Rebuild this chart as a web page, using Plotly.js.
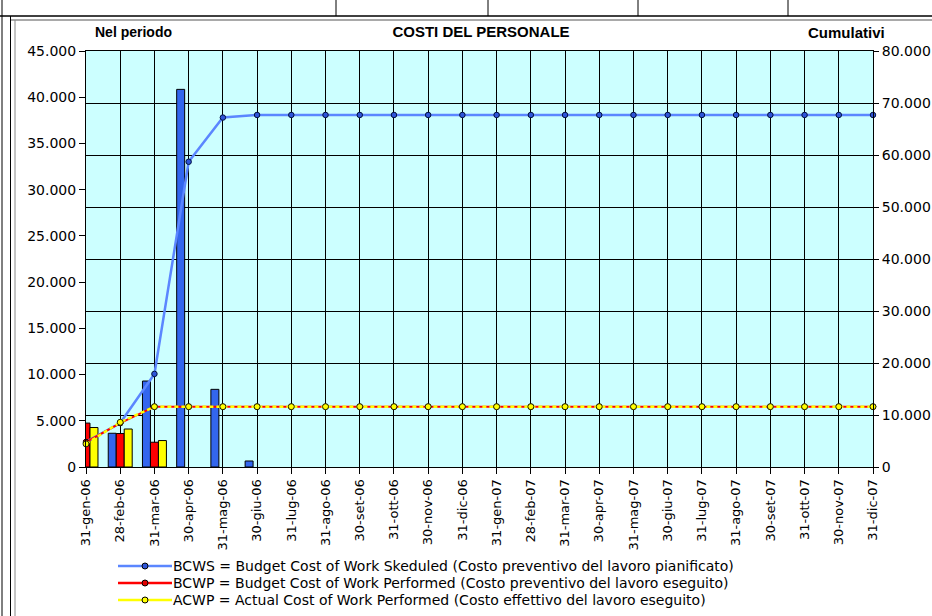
<!DOCTYPE html>
<html>
<head>
<meta charset="utf-8">
<script src="https://cdn.plot.ly/plotly-3.0.1.min.js"></script>
<style>
html,body{margin:0;padding:0;background:#ffffff;}
#chart{width:932px;height:616px;}
</style>
</head>
<body>
<div id="chart"></div>
<script>
// ---- data ----
const categories = ["31-gen-06","28-feb-06","31-mar-06","30-apr-06","31-mag-06","30-giu-06",
  "31-lug-06","31-ago-06","30-set-06","31-ott-06","30-nov-06","31-dic-06",
  "31-gen-07","28-feb-07","31-mar-07","30-apr-07","31-mag-07","30-giu-07",
  "31-lug-07","31-ago-07","30-set-07","31-ott-07","30-nov-07","31-dic-07"];

// "Nel periodo" (left axis) - bars
const bcwsPeriod = [4800, 3650, 9300, 40850, 8400, 650, 0, 0, 0, 0, 0, 0,
                    0, 0, 0, 0, 0, 0, 0, 0, 0, 0, 0, 0];
const bcwpPeriod = [4750, 3620, 2680, 0, 0, 0, 0, 0, 0, 0, 0, 0,
                    0, 0, 0, 0, 0, 0, 0, 0, 0, 0, 0, 0];
const acwpPeriod = [4270, 4110, 2860, 0, 0, 0, 0, 0, 0, 0, 0, 0,
                    0, 0, 0, 0, 0, 0, 0, 0, 0, 0, 0, 0];

// "Cumulativi" (right axis) - lines
const bcwsCum = [4800, 8450, 17900, 58700, 67200, 67700, 67700, 67700, 67700, 67700, 67700, 67700,
                 67700, 67700, 67700, 67700, 67700, 67700, 67700, 67700, 67700, 67700, 67700, 67700];
const bcwpCum = [4800, 8450, 11600, 11600, 11600, 11600, 11600, 11600, 11600, 11600, 11600, 11600,
                 11600, 11600, 11600, 11600, 11600, 11600, 11600, 11600, 11600, 11600, 11600, 11600];
const acwpCum = [4450, 8600, 11600, 11600, 11600, 11600, 11600, 11600, 11600, 11600, 11600, 11600,
                 11600, 11600, 11600, 11600, 11600, 11600, 11600, 11600, 11600, 11600, 11600, 11600];

const seriesNames = [
  "BCWS = Budget Cost of Work Skeduled (Costo preventivo del lavoro pianificato)",
  "BCWP = Budget Cost of Work Performed (Costo preventivo del lavoro eseguito)",
  "ACWP = Actual Cost of Work Performed (Costo effettivo del lavoro eseguito)"
];
const titleText = "COSTI DEL PERSONALE";
const leftTitle = "Nel periodo";
const rightTitle = "Cumulativi";

// ---- styles ----
const lineColors = ["#5b86ff", "#ff0000", "#ffff00"];
const markerColors = ["#2f55d8", "#e00000", "#ffff00"];
const barColors = ["#3366ee", "#ff0000", "#ffff00"];

// ---- layout helpers (pixel -> paper) ----
const W = 932, H = 616, L = 86, R = 59, T = 51, B = 149;
const PW = W - L - R, PH = H - T - B;
const px = v => (v - L) / PW;
const py = v => (H - B - v) / PH;

const FONT = "DejaVu Sans, Verdana, sans-serif";
const TFONT = "Liberation Sans, Arial, sans-serif";
const outline = vals => vals.map(v => (v ? 1 : 0));

const traces = [
  {type:"bar", x:categories, y:bcwsPeriod, yaxis:"y", name:"BCWS",
   marker:{color:barColors[0], line:{color:"#000", width:outline(bcwsPeriod)}}, hoverinfo:"skip"},
  {type:"bar", x:categories, y:bcwpPeriod, yaxis:"y", name:"BCWP",
   marker:{color:barColors[1], line:{color:"#000", width:outline(bcwpPeriod)}}, hoverinfo:"skip"},
  {type:"bar", x:categories, y:acwpPeriod, yaxis:"y", name:"ACWP",
   marker:{color:barColors[2], line:{color:"#000", width:outline(acwpPeriod)}}, hoverinfo:"skip"},
  {type:"scatter", mode:"lines+markers", x:categories, y:bcwsCum, yaxis:"y2", name:seriesNames[0],
   cliponaxis:false,
   line:{color:lineColors[0], width:2.5},
   marker:{symbol:"circle", size:5.5, color:markerColors[0], line:{color:"#001040", width:1}}},
  {type:"scatter", mode:"lines+markers", x:categories, y:bcwpCum, yaxis:"y2", name:seriesNames[1],
   cliponaxis:false,
   line:{color:lineColors[1], width:2},
   marker:{symbol:"circle", size:5.5, color:markerColors[1], line:{color:"#200000", width:1}}},
  {type:"scatter", mode:"lines+markers", x:categories, y:acwpCum, yaxis:"y2", name:seriesNames[2],
   cliponaxis:false,
   line:{color:lineColors[2], width:2.5, dash:"4px,3px"},
   marker:{symbol:"circle", size:6, color:markerColors[2], line:{color:"#202000", width:1}}}
];

const lineShape = (x0,y0,x1,y1,c,w,dash) => ({type:"line", xref:"paper", yref:"paper",
  x0:px(x0), y0:py(y0), x1:px(x1), y1:py(y1), line:{color:c, width:w, dash:dash||"solid"}, layer:"above"});

// manual legend (rows like the reference)
const legendRows = [566, 583, 600];
const legendShapes = [];
const legendAnnotations = [];
seriesNames.forEach((name, i) => {
  const yy = legendRows[i];
  legendShapes.push(lineShape(118, yy, 172, yy, lineColors[i], 2.5));
  legendShapes.push({type:"circle", xref:"paper", yref:"paper",
    x0:px(142), x1:px(148), y0:py(yy+3), y1:py(yy-3),
    fillcolor:markerColors[i], line:{color:"#000", width:1}, layer:"above"});
  legendAnnotations.push({xref:"paper", yref:"paper", x:px(171), y:py(yy), xanchor:"left", yanchor:"middle",
    text:name, showarrow:false, font:{family:FONT, size:14, color:"#000"}});
});

const layout = {
  width: W, height: H,
  margin:{l:L, r:R, t:T, b:B, pad:0, autoexpand:false},
  paper_bgcolor:"#ffffff",
  plot_bgcolor:"#ccffff",
  separators:",.",
  font:{family:FONT, size:13, color:"#000"},
  barmode:"group", bargap:0.3, bargroupgap:0,
  showlegend:false,
  title:{text:"<b>"+titleText+"</b>", x:481/W, xref:"container", xanchor:"center",
         y:1-32/H, yref:"container", yanchor:"middle", font:{family:TFONT, size:15, color:"#000"}},
  xaxis:{type:"category", range:[0,23], tickmode:"linear", tick0:0, dtick:1,
         showgrid:true, gridcolor:"#000", gridwidth:1,
         showline:true, linecolor:"#000", linewidth:1, mirror:true,
         ticks:"outside", ticklen:6, tickcolor:"#000", tickangle:-90, automargin:false,
         tickfont:{family:FONT, size:13, color:"#000"}, zeroline:false, fixedrange:true},
  yaxis:{range:[0,45000], tick0:0, dtick:5000, tickformat:",d", showgrid:false, automargin:false,
         showline:true, linecolor:"#000", linewidth:1, ticks:"outside", ticklen:6, tickcolor:"#000",
         zeroline:false, tickfont:{family:FONT, size:14, color:"#000"}, fixedrange:true},
  yaxis2:{overlaying:"y", side:"right", range:[0,80000], tick0:0, dtick:10000, tickformat:",d", automargin:false,
          showgrid:true, gridcolor:"#000", gridwidth:1,
          showline:true, linecolor:"#000", linewidth:1, ticks:"outside", ticklen:5, tickcolor:"#000",
          zeroline:false, tickfont:{family:FONT, size:14, color:"#000"}, fixedrange:true},
  annotations:[
    {xref:"paper", yref:"paper", x:px(133), y:py(32), xanchor:"center", yanchor:"middle",
     text:"<b>"+leftTitle+"</b>", showarrow:false, font:{family:TFONT, size:14, color:"#000"}},
    {xref:"paper", yref:"paper", x:px(846), y:py(32), xanchor:"center", yanchor:"middle",
     text:"<b>"+rightTitle+"</b>", showarrow:false, font:{family:TFONT, size:15, color:"#000"}}
  ].concat(legendAnnotations),
  shapes:[
    lineShape(0,16,W,16,"#000",1.5),
    lineShape(11,20,W,20,"#555",1),
    lineShape(2,0,2,H,"#000",1),
    lineShape(10.5,16,10.5,H,"#000",1),
    lineShape(15,20,15,H,"#888",1),
    lineShape(336,0,336,16,"#000",1),
    lineShape(488,0,488,16,"#000",1),
    lineShape(638,0,638,16,"#000",1),
    lineShape(788,0,788,16,"#000",1)
  ].concat(legendShapes)
};

Plotly.newPlot("chart", traces, layout, {displayModeBar:false, staticPlot:true});
</script>
</body>
</html>
